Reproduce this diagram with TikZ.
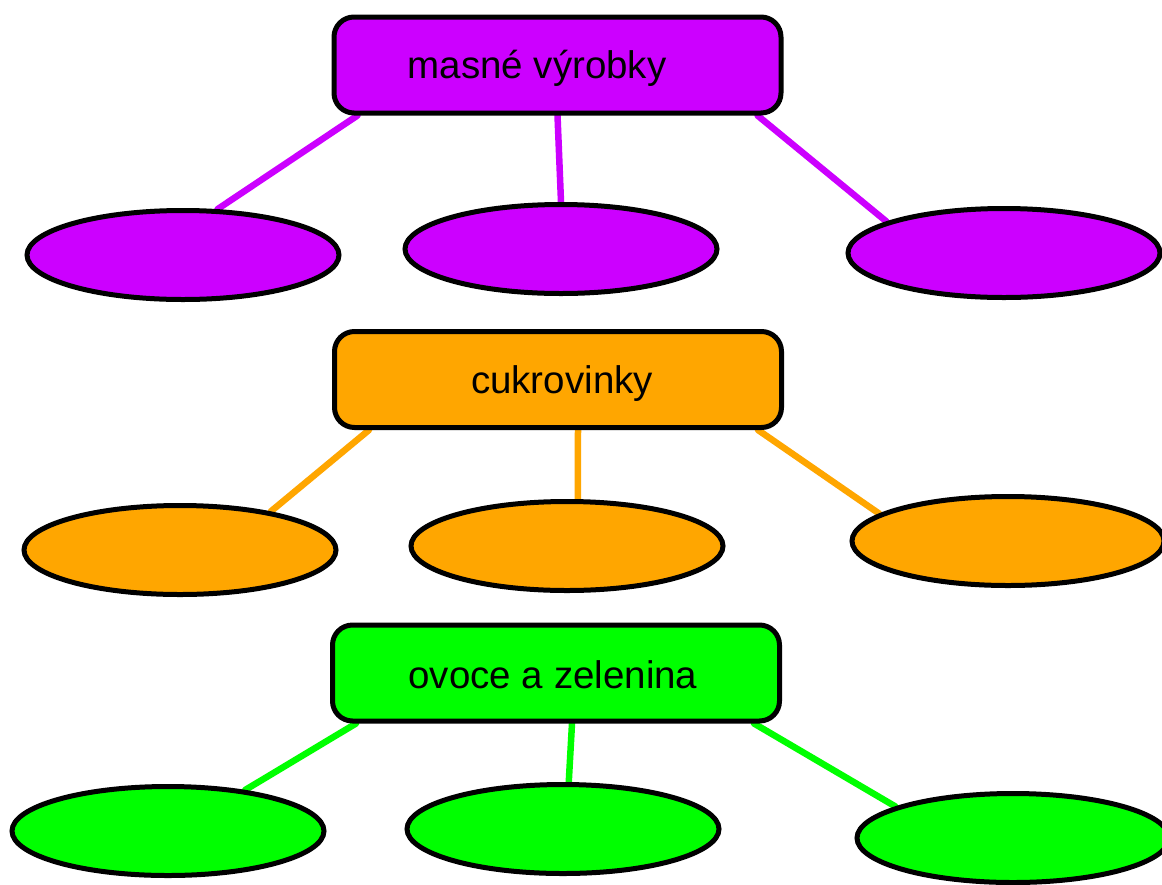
\documentclass[tikz,border=0pt]{standalone}
\usepackage{fontspec}
\setmainfont{Liberation Sans}
\usetikzlibrary{shapes.geometric,backgrounds}
\definecolor{cpurple}{RGB}{204,0,255}
\definecolor{corange}{RGB}{255,166,0}
\definecolor{cgreen}{RGB}{0,255,0}
\begin{document}
\begin{tikzpicture}[x=1pt,y=-1pt,
 catbox/.style={draw=black, line width=5pt, rounded corners=20pt, minimum width=447pt, minimum height=96pt, inner sep=0pt},
 leaf/.style={ellipse, draw=black, line width=5pt, minimum width=312pt, minimum height=89pt, inner sep=0pt},
 lbl/.style={font=\fontsize{38.5}{42}\selectfont, anchor=base, inner sep=0pt},
 link/.style={line width=6.5pt, line cap=round}]

\useasboundingbox (0,0) rectangle (1162,884);

% masne vyrobky
\node[catbox, fill=cpurple] (m) at (557.5,65) {};
\node[lbl] (mt) at (537,78) {masné výrobky};
\node[leaf, fill=cpurple] (m1) at (183,255) {};
\node[leaf, fill=cpurple] (m2) at (561,249) {};
\node[leaf, fill=cpurple] (m3) at (1004,253) {};

% cukrovinky
\node[catbox, fill=corange] (c) at (558,379.5) {};
\node[lbl] (ct) at (562,393) {cukrovinky};
\node[leaf, fill=corange] (c1) at (180,550) {};
\node[leaf, fill=corange] (c2) at (567,546) {};
\node[leaf, fill=corange] (c3) at (1008,541) {};

% ovoce a zelenina
\node[catbox, fill=cgreen] (o) at (556,673) {};
\node[lbl] (ot) at (553,688) {ovoce a zelenina};
\node[leaf, fill=cgreen] (o1) at (168,831) {};
\node[leaf, fill=cgreen] (o2) at (563,829) {};
\node[leaf, fill=cgreen] (o3) at (1013,838) {};

\begin{scope}[on background layer]
\fill[white] (0,0) rectangle (1162,884);
\draw[link, cpurple] ([xshift=26pt]m.south west) -- (m1.53);
\draw[link, cpurple] (m.south) -- (m2.90);
\draw[link, cpurple] ([xshift=-26pt]m.south east) -- (m3.165);
\draw[link, corange] ([xshift=37pt]c.south west) -- (c1.23);
\draw[link, corange] ([xshift=20pt]c.south) -- (c2.77);
\draw[link, corange] ([xshift=-26pt]c.south east) -- (c3.168);
\draw[link, cgreen] ([xshift=26pt]o.south west) -- (o1.28);
\draw[link, cgreen] ([xshift=16pt]o.south) -- (o2.83);
\draw[link, cgreen] ([xshift=-28pt]o.south east) -- (o3.165);
\end{scope}
\end{tikzpicture}
\end{document}
